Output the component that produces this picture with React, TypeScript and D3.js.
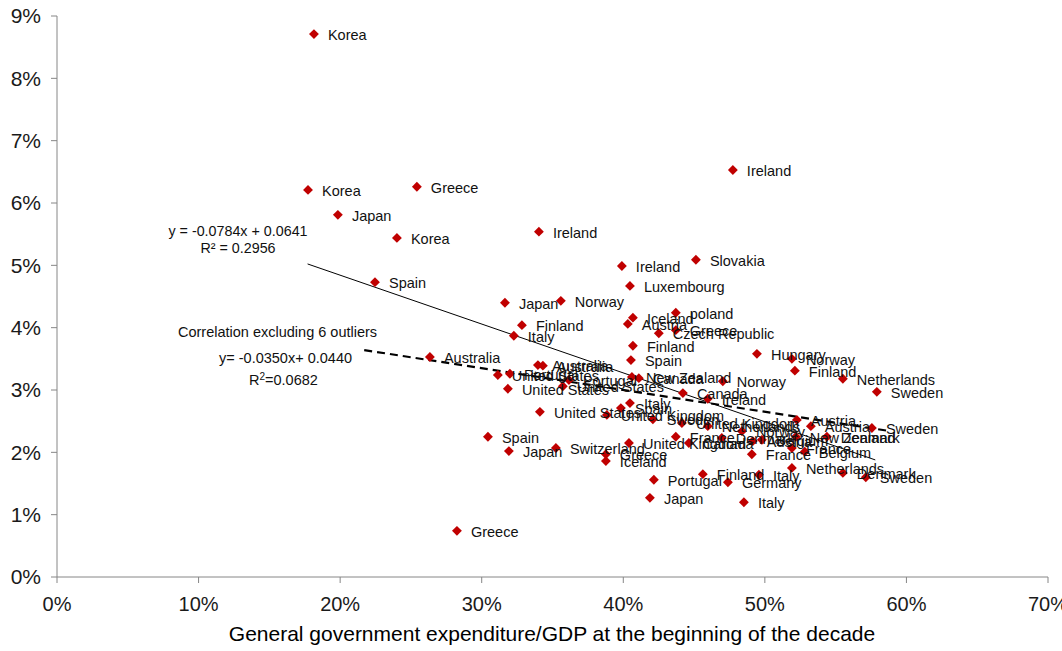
import React, { useEffect } from "react";
import * as d3 from "d3";

const countries = [
  "Korea", "Ireland", "Korea", "Greece", "Japan", "Korea", "Ireland", "Slovakia", "Ireland", "Spain",
  "Luxembourg", "Japan", "Norway", "poland", "Iceland", "Austria", "Finland", "Greece", "Czech Republic", "Italy",
  "Finland", "Hungary", "Australia", "Norway", "Spain", "Australia", "Australia", "Finland", "United States", "Portugal",
  "New Zealand", "Canada", "Netherlands", "Portugal", "Norway", "United States", "United States", "Sweden", "Canada", "Ireland",
  "Italy", "Spain", "United States", "United Kingdom", "Sweden", "Austria", "United Kingdom", "Netherlands", "Austria", "Sweden",
  "Norway", "France", "Spain", "Denmark", "New Zealand", "Denmark", "Austria", "Belgium", "Canada", "United Kingdom",
  "Switzerland", "France", "Japan", "Belgium", "Greece", "France", "Iceland", "Netherlands", "Denmark", "Finland",
  "Italy", "Sweden", "Portugal", "Germany", "Japan", "Italy", "Greece",
];

// General government expenditure / GDP at beginning of decade (%)
const govExp = [
  18.15, 47.74, 17.73, 25.42, 19.84, 24.01, 34.04, 45.13, 39.9, 22.46,
  40.47, 31.64, 35.59, 43.71, 40.68, 40.32, 32.84, 43.71, 42.51, 32.27,
  40.68, 49.44, 26.34, 51.91, 40.54, 33.97, 34.32, 52.12, 31.14, 31.99,
  40.61, 41.1, 55.51, 36.16, 47.03, 35.73, 31.85, 57.91, 44.21, 45.97,
  40.47, 39.83, 34.11, 38.84, 42.09, 52.26, 44.14, 45.97, 53.25, 57.56,
  48.38, 43.71, 30.44, 46.96, 52.19, 54.38, 49.15, 49.79, 44.63, 40.4,
  35.24, 51.91, 31.92, 52.82, 38.77, 49.08, 38.77, 51.91, 55.51, 45.62,
  49.58, 57.13, 42.16, 47.39, 41.88, 48.52, 28.25,
];

// Growth over the decade (%)
const growth = [
  8.71, 6.53, 6.21, 6.26, 5.81, 5.44, 5.54, 5.09, 4.99, 4.73,
  4.67, 4.4, 4.43, 4.24, 4.16, 4.06, 4.04, 3.96, 3.91, 3.87,
  3.71, 3.58, 3.53, 3.5, 3.48, 3.4, 3.39, 3.31, 3.24, 3.26,
  3.21, 3.19, 3.18, 3.16, 3.14, 3.06, 3.02, 2.97, 2.95, 2.86,
  2.79, 2.71, 2.65, 2.6, 2.53, 2.52, 2.47, 2.42, 2.42, 2.39,
  2.34, 2.25, 2.25, 2.23, 2.25, 2.25, 2.18, 2.2, 2.15, 2.15,
  2.07, 2.07, 2.02, 2.01, 1.97, 1.97, 1.86, 1.75, 1.67, 1.65,
  1.64, 1.6, 1.56, 1.52, 1.27, 1.2, 0.74,
];

const xTicks = [0, 10, 20, 30, 40, 50, 60, 70];
const yTicks = [0, 1, 2, 3, 4, 5, 6, 7, 8, 9];

// Trend lines: slope, intercept (fractions), x range (fractions)
const trendAll = { slope: -0.0784, intercept: 0.0641, x0: 0.177, x1: 0.578 };
const trendEx = { slope: -0.035, intercept: 0.044, x0: 0.217, x1: 0.588 };

const xTitle = "General government expenditure/GDP at the beginning of the decade";

const FONT = "'Liberation Sans', Arial, Helvetica, sans-serif";

export default function App() {
  useEffect(() => {
    document.body.style.margin = "0";
  }, []);

  const W = 1062;
  const H = 651;
  const left = 57;
  const right = 1048;
  const top = 16;
  const bottom = 577;

  const x = d3.scaleLinear().domain([0, 70]).range([left, right]);
  const y = d3.scaleLinear().domain([0, 9]).range([bottom, top]);

  const trendPath = (t: typeof trendAll) =>
    d3
      .line<number>()
      .x((v) => x(v * 100))
      .y((v) => y((t.slope * v + t.intercept) * 100))([t.x0, t.x1]) as string;

  const diamond = d3.symbol().type(d3.symbolDiamond2).size(62)() as string;
  const axisColor = "#868686";
  const red = "#C00000";

  return (
    <div style={{ position: "absolute", left: 0, top: 0 }}>
      <svg width={W} height={H} style={{ display: "block", background: "#fff" }} fontFamily={FONT}>
        {/* axes */}
        <line x1={left} x2={left} y1={top} y2={bottom} stroke={axisColor} strokeWidth={1} />
        <line x1={left} x2={right} y1={bottom} y2={bottom} stroke={axisColor} strokeWidth={1} />
        {yTicks.map((t) => (
          <g key={"y" + t}>
            <line x1={left - 6} x2={left} y1={y(t)} y2={y(t)} stroke={axisColor} />
            <text x={41} y={y(t)} dy="0.35em" textAnchor="end" fontSize={21} fill="#1a1a1a">
              {t + "%"}
            </text>
          </g>
        ))}
        {xTicks.map((t) => (
          <g key={"x" + t}>
            <line x1={x(t)} x2={x(t)} y1={bottom} y2={bottom + 6} stroke={axisColor} />
            <text x={x(t)} y={604} dy="0.35em" textAnchor="middle" fontSize={20} fill="#1a1a1a">
              {t + "%"}
            </text>
          </g>
        ))}
        <text x={552} y={634} dy="0.35em" textAnchor="middle" fontSize={21} fill="#000">
          {xTitle}
        </text>

        {/* trend lines */}
        <path d={trendPath(trendAll)} stroke="#000" strokeWidth={1} fill="none" />
        <path d={trendPath(trendEx)} stroke="#000" strokeWidth={2.2} strokeDasharray="8,5" fill="none" />

        {/* points */}
        {govExp.map((gx, i) => (
          <g key={"p" + i} transform={`translate(${x(gx)},${y(growth[i])})`}>
            <path d={diamond} fill={red} />
          </g>
        ))}
        {govExp.map((gx, i) => (
          <text
            key={"l" + i}
            x={x(gx) + 14}
            y={y(growth[i]) + 1}
            dy="0.35em"
            fontSize={14.5}
            fill="#111"
          >
            {countries[i]}
          </text>
        ))}

        {/* annotations */}
        <text x={238} y={236} textAnchor="middle" fontSize={14.3} fill="#111">
          y = -0.0784x  + 0.0641
        </text>
        <text x={238} y={253} textAnchor="middle" fontSize={14.3} fill="#111">
          R² = 0.2956
        </text>
        <text x={178} y={337} fontSize={14.5} fill="#111">
          Correlation excluding 6 outliers
        </text>
        <text x={219} y={363} fontSize={14.5} fill="#111">
          y= -0.0350x+ 0.0440
        </text>
        <text x={249} y={385} fontSize={14.5} fill="#111">
          R<tspan dy={-5} fontSize={10}>2</tspan>
          <tspan dy={5}>=0.0682</tspan>
        </text>
      </svg>
    </div>
  );
}
